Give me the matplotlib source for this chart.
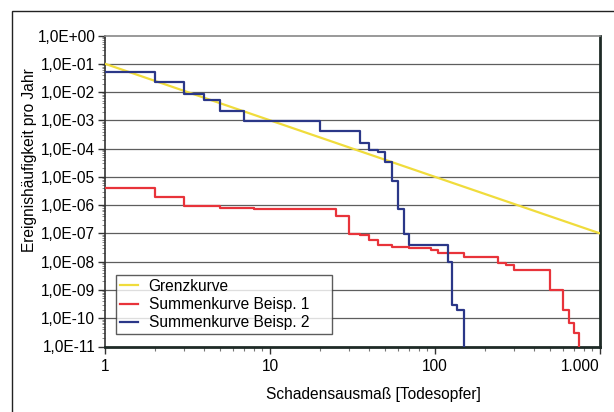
import matplotlib
matplotlib.use('Agg')
import matplotlib.pyplot as plt
import matplotlib.ticker as mticker
import matplotlib.patches as mpatches

plt.rcParams['font.family'] = ['Liberation Sans', 'DejaVu Sans']

# Grenzkurve
grenz_x = [1, 1000]
grenz_y = [1e-1, 1e-7]

# Summenkurve Beisp. 1 (Stufen)
rot_x = [1, 2, 3, 5, 8, 25, 30, 35, 40, 45, 55, 70, 95, 105, 150, 242, 270, 300, 500, 600, 650, 700, 750]
rot_y = [4.2e-6, 2.0e-6, 9.4e-7, 8.2e-7, 7.1e-7, 4.1e-7, 9.8e-8, 9.1e-8, 5.9e-8, 4.0e-8, 3.4e-8,
         3.1e-8, 2.5e-8, 2.0e-8, 1.5e-8, 8.8e-9, 7.5e-9, 5.1e-9, 1.0e-9, 1.9e-10, 6.9e-11, 3.0e-11, 1e-13]

# Summenkurve Beisp. 2 (Stufen)
blau_x = [1, 2, 3, 4, 5, 7, 20, 35, 40, 45, 50, 55, 60, 65, 70, 120, 126, 135, 150]
blau_y = [5.3e-2, 2.2e-2, 8.4e-3, 5.3e-3, 2.1e-3, 9.5e-4, 4.3e-4, 1.6e-4, 9.0e-5, 7.4e-5, 3.3e-5,
          7.4e-6, 7.4e-7, 9.6e-8, 3.8e-8, 1.0e-8, 2.9e-10, 2.0e-10, 1e-13]

y_ticks = [1e0, 1e-1, 1e-2, 1e-3, 1e-4, 1e-5, 1e-6, 1e-7, 1e-8, 1e-9, 1e-10, 1e-11]
y_labels = ['1,0E+00', '1,0E-01', '1,0E-02', '1,0E-03', '1,0E-04', '1,0E-05',
            '1,0E-06', '1,0E-07', '1,0E-08', '1,0E-09', '1,0E-10', '1,0E-11']
x_ticks = [1, 10, 100, 1000]
x_labels = ['1', '10', '100', '1.000']

fs = 11.2

fig = plt.figure(figsize=(6.14, 4.12), dpi=100)
ax = fig.add_axes([105/614, 1-346.5/412, 495/614, 311/412])

# Rahmen um die ganze Grafik
fig.patches.append(mpatches.Rectangle((12/614, -0.1), 1.2, 1-10.5/412+0.1, transform=fig.transFigure,
                                      fill=False, edgecolor='#222222', linewidth=1.0))

ax.set_xscale('log')
ax.set_yscale('log')
ax.set_xlim(1, 1000)
ax.set_ylim(1e-11, 1)

for yv in y_ticks[1:-1]:
    ax.axhline(yv, color='#5e5e5e', linewidth=0.9, zorder=1)

ax.plot(grenz_x, grenz_y, color='#f0dc3c', linewidth=1.6, label='Grenzkurve', zorder=3)
ax.step(rot_x, rot_y, where='post', color='#e8333a', linewidth=1.6, label='Summenkurve Beisp. 1', zorder=4)
ax.step(blau_x, blau_y, where='post', color='#2b3788', linewidth=1.6, label='Summenkurve Beisp. 2', zorder=5)

ax.set_yticks(y_ticks)
ax.set_yticklabels(y_labels)
ax.set_xticks(x_ticks)
ax.set_xticklabels(x_labels)
ax.xaxis.set_minor_locator(mticker.LogLocator(base=10, subs=range(2, 10), numticks=20))
ax.xaxis.set_minor_formatter(mticker.NullFormatter())
ax.yaxis.set_minor_locator(mticker.LogLocator(base=10, subs=range(2, 10), numticks=30))
ax.yaxis.set_minor_formatter(mticker.NullFormatter())
ax.tick_params(axis='both', which='major', labelsize=fs, length=5, width=1, color='#333333', direction='out')
ax.tick_params(axis='y', which='minor', length=2, width=0.6, color='#777777', direction='out')
ax.tick_params(axis='x', which='minor', length=3, width=0.8, color='#777777', direction='out')
ax.tick_params(axis='x', which='major', pad=4)
ax.tick_params(axis='y', which='major', pad=2)
ax.get_xticklabels()[-1].set_horizontalalignment('right')

for side in ['left', 'top']:
    ax.spines[side].set_color('#333333')
    ax.spines[side].set_linewidth(1.2)
for side in ['right', 'bottom']:
    ax.spines[side].set_color('#1e2a26')
    ax.spines[side].set_linewidth(2.0)
ax.spines['top'].set_color('#888888')

ax.set_xlabel('Schadensausmaß [Todesopfer]', fontsize=fs)
ax.set_ylabel('Ereignishäufigkeit pro Jahr', fontsize=fs)
ax.xaxis.set_label_coords((373-105)/495, -(387-346.5)/311)
ax.yaxis.set_label_coords((37-105)/495, (346.5-160)/311)

leg = ax.legend(loc='lower left', bbox_to_anchor=(11/495, 12.5/311, 216/495, 58/311), mode='expand',
                fontsize=fs, frameon=True, fancybox=False, handlelength=1.15, handletextpad=0.7,
                borderpad=0.25, labelspacing=0.2, borderaxespad=0)
leg.get_frame().set_edgecolor('#333333')
leg.get_frame().set_linewidth(1.0)
leg.set_zorder(10)

fig.savefig('out.png', dpi=100)
